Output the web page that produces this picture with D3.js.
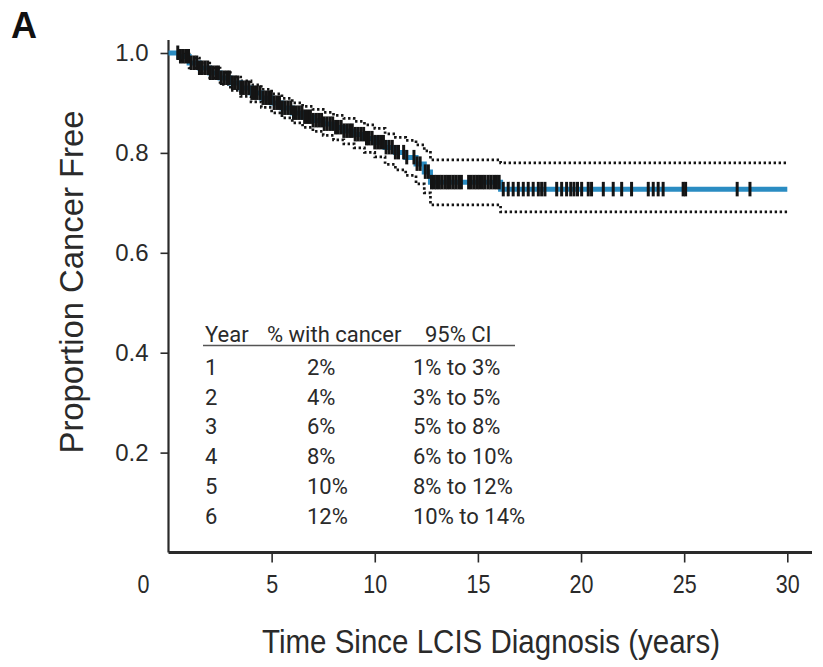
<!DOCTYPE html>
<html>
<head>
<meta charset="utf-8">
<script src="https://cdn.jsdelivr.net/npm/d3@7"></script>
<style>
  html, body { margin: 0; padding: 0; background: #fff; }
  svg { display: block; }
</style>
</head>
<body>
<script>
// Kaplan-Meier estimate of cancer-free proportion after LCIS diagnosis
const stepTimes   = [0, 0.5, 1.0, 1.5, 2.0, 2.5, 3.0, 3.5, 4.0, 4.5, 5.0, 5.5, 6.0, 6.5, 7.0, 7.5, 8.0, 8.5, 9.0, 9.5, 10.0, 10.5, 11.0, 11.5, 12.0, 12.4, 12.7, 16.1];
const survival    = [1.000, 0.993, 0.980, 0.970, 0.960, 0.950, 0.940, 0.930, 0.920, 0.910, 0.900, 0.890, 0.880, 0.872, 0.865, 0.858, 0.851, 0.844, 0.837, 0.829, 0.821, 0.811, 0.801, 0.791, 0.778, 0.762, 0.741, 0.727];
const ciLower     = [1.000, 0.985, 0.970, 0.960, 0.950, 0.937, 0.925, 0.913, 0.902, 0.891, 0.880, 0.870, 0.860, 0.851, 0.843, 0.835, 0.826, 0.818, 0.810, 0.801, 0.792, 0.777, 0.766, 0.755, 0.738, 0.720, 0.696, 0.682];
const ciUpper     = [1.000, 0.998, 0.990, 0.980, 0.970, 0.961, 0.952, 0.944, 0.936, 0.927, 0.918, 0.909, 0.900, 0.893, 0.887, 0.881, 0.875, 0.869, 0.863, 0.856, 0.849, 0.838, 0.831, 0.825, 0.816, 0.804, 0.786, 0.780];
const followUpEnd = 30;

// censored observations (years)
const censorTimes = [
  0.45, 0.58, 0.72, 0.85, 0.97, 1.1, 1.24, 1.37, 1.5, 1.62, 1.76, 1.9, 2.03, 2.15, 2.29, 2.42, 2.56, 2.7, 2.83, 2.95,
  3.1, 3.23, 3.36, 3.5, 3.63, 3.77, 3.9, 4.04, 4.17, 4.3, 4.44, 4.58, 4.71, 4.85, 4.98, 5.12, 5.25, 5.38, 5.52, 5.66,
  5.8, 5.93, 6.06, 6.2, 6.34, 6.47, 6.6, 6.74, 6.88, 7.01, 7.15, 7.28, 7.42, 7.55, 7.69, 7.83, 7.96, 8.1, 8.23, 8.37,
  8.5, 8.64, 8.78, 8.91, 9.05, 9.18, 9.32, 9.46, 9.6, 9.73, 9.87, 10.0, 10.14, 10.28, 10.42, 10.55, 10.7, 10.85, 11.0,
  11.15, 11.4, 11.55, 11.9, 12.05, 12.2, 12.45, 12.6,
  12.75, 12.88, 13.0, 13.13, 13.26, 13.4, 13.53, 13.66, 13.8, 13.93, 14.07, 14.2,
  14.55, 14.68, 14.82, 14.95, 15.08, 15.22, 15.35, 15.5, 15.63, 15.77, 15.9, 16.03,
  16.23, 16.47, 16.71, 16.96, 17.2, 17.44, 17.68, 17.93, 18.09, 18.25, 18.82, 19.06, 19.3, 19.5, 19.66, 19.83, 20.03,
  20.35, 20.51, 21.08, 21.56, 21.97, 22.45, 23.26, 23.5, 23.74, 23.98, 24.95, 25.07, 27.57, 28.19
];

const xTicks = [5, 10, 15, 20, 25, 30];
const yTicks = [0.2, 0.4, 0.6, 0.8, 1.0];

// cumulative incidence table
const tableHeader = ["Year", "% with cancer", "95% CI"];
const tableYears  = ["1", "2", "3", "4", "5", "6"];
const tablePct    = ["2%", "4%", "6%", "8%", "10%", "12%"];
const tableCI     = ["1% to 3%", "3% to 5%", "5% to 8%", "6% to 10%", "8% to 12%", "10% to 14%"];

const W = 823, H = 667;
const ink = "#2a2a2a";

const svg = d3.select("body").append("svg")
  .attr("width", W).attr("height", H)
  .style("font-family", "'Liberation Sans', Arial, sans-serif");

svg.append("rect").attr("width", W).attr("height", H).attr("fill", "#fff");

const x = d3.scaleLinear().domain([0, 30]).range([168.5, 787.3]);
const y = d3.scaleLinear().domain([0, 1]).range([552.5, 53]);

// step series extended to end of follow-up
const pts = (vals) => stepTimes.map((t, i) => [t, vals[i]]).concat([[followUpEnd, vals[vals.length - 1]]]);
const stepLine = d3.line().x(d => x(d[0])).y(d => y(d[1])).curve(d3.curveStepAfter);

// axes
const yAxis = d3.axisLeft(y).tickValues(yTicks).tickFormat(d3.format(".1f")).tickSize(8).tickPadding(12);
const gy = svg.append("g").attr("transform", `translate(${x(0)},0)`).call(yAxis);
gy.select(".domain").remove();
gy.selectAll(".tick line").attr("stroke", ink).attr("stroke-width", 1.6);
gy.selectAll(".tick text").attr("fill", ink).style("font-size", "24px");

const xAxis = d3.axisBottom(x).tickValues(xTicks).tickSize(10).tickPadding(13);
const gx = svg.append("g").attr("transform", `translate(0,${y(0)})`).call(xAxis);
gx.select(".domain").remove();
gx.selectAll(".tick line").attr("stroke", ink).attr("stroke-width", 1.6);
gx.selectAll(".tick text").attr("fill", ink).style("font-size", "25px").attr("transform", "scale(0.86,1)");

// origin label
gx.append("text").attr("x", x(0) - 25).attr("y", 23).attr("dy", "0.71em")
  .attr("text-anchor", "middle").attr("fill", ink).style("font-size", "25px").text("0")
  .attr("transform", `translate(${(x(0) - 25) * 0.14},0) scale(0.86,1)`);

svg.append("line").attr("x1", x(0)).attr("x2", 812).attr("y1", y(0)).attr("y2", y(0))
  .attr("stroke", ink).attr("stroke-width", 2.8);
svg.append("line").attr("x1", x(0)).attr("x2", x(0)).attr("y1", 40).attr("y2", y(0))
  .attr("stroke", ink).attr("stroke-width", 2.2);

// confidence band (dotted)
[ciUpper, ciLower].forEach(v => {
  svg.append("path").attr("d", stepLine(pts(v)))
    .attr("fill", "none").attr("stroke", "#151515").attr("stroke-width", 2.7)
    .attr("stroke-dasharray", "2.4,2.6");
});

// survival curve
svg.append("path").attr("d", stepLine(pts(survival)))
  .attr("fill", "none").attr("stroke", "#2a8cc2").attr("stroke-width", 5);

// censor marks
const bis = d3.bisector(d => d).right;
const sAt = t => survival[Math.max(0, bis(stepTimes, t) - 1)];
svg.append("g").selectAll("line").data(censorTimes).join("line")
  .attr("x1", d => x(d)).attr("x2", d => x(d))
  .attr("y1", d => y(sAt(d)) - 7.5).attr("y2", d => y(sAt(d)) + 7)
  .attr("stroke", "#141414").attr("stroke-width", 3);

// table
const tbl = svg.append("g").attr("fill", ink).style("font-family", "Roboto, 'Liberation Sans', sans-serif").style("font-size", "22px");
const colX = [205, 267, 425];
tableHeader.forEach((h, i) => tbl.append("text").attr("x", colX[i]).attr("y", 342).text(h));
svg.append("line").attr("x1", 203).attr("x2", 515).attr("y1", 345.5).attr("y2", 345.5)
  .attr("stroke", "#555").attr("stroke-width", 1.5);
const rowY = i => 375 + i * 29.7;
tableYears.forEach((v, i) => tbl.append("text").attr("x", 205).attr("y", rowY(i)).text(v));
tablePct.forEach((v, i) => tbl.append("text").attr("x", 307).attr("y", rowY(i)).text(v));
tableCI.forEach((v, i) => tbl.append("text").attr("x", 413).attr("y", rowY(i)).text(v));

// axis titles
svg.append("text").attr("transform", "translate(83,282) rotate(-90)")
  .attr("text-anchor", "middle").attr("fill", ink).style("font-size", "33px")
  .attr("textLength", 343).attr("lengthAdjust", "spacingAndGlyphs")
  .text("Proportion Cancer Free");

svg.append("text").attr("x", 491).attr("y", 653)
  .attr("text-anchor", "middle").attr("fill", ink).style("font-size", "33px")
  .attr("textLength", 458).attr("lengthAdjust", "spacingAndGlyphs")
  .text("Time Since LCIS Diagnosis (years)");

// panel letter
svg.append("text").attr("x", 11).attr("y", 38).attr("fill", "#111")
  .style("font-size", "36px").style("font-weight", "bold").text("A");
</script>
</body>
</html>
